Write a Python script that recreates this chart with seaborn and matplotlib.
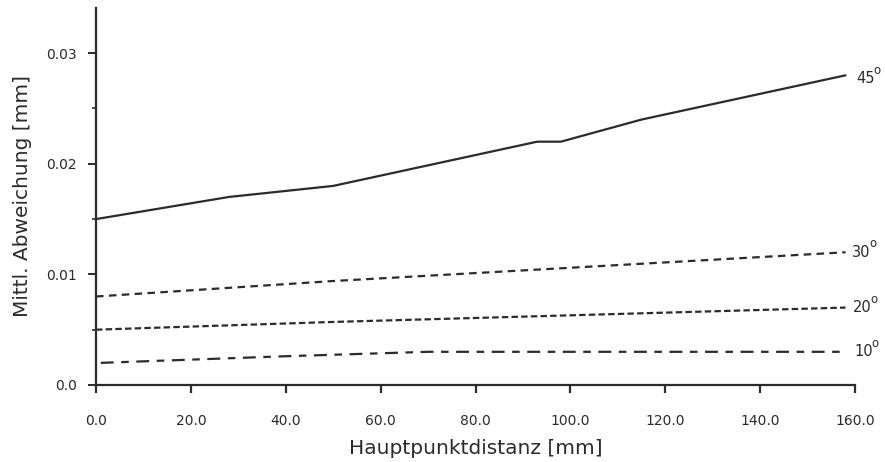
import matplotlib
matplotlib.use("Agg")
import matplotlib.pyplot as plt
import seaborn as sns
import pandas as pd

# Mean deviation vs. principal distance, for four viewing angles
x_45 = [0, 28, 50, 93, 98, 115, 158]
y_45 = [0.015, 0.017, 0.018, 0.022, 0.022, 0.024, 0.028]

x_30 = [0, 50, 100, 158]
y_30 = [0.008, 0.0094, 0.0106, 0.012]

x_20 = [0, 50, 100, 158]
y_20 = [0.005, 0.0057, 0.0063, 0.007]

x_10 = [1, 40, 70, 158]
y_10 = [0.002, 0.0026, 0.003, 0.003]

angles = ["45", "30", "20", "10"]
x_ticks = [0, 20, 40, 60, 80, 100, 120, 140, 160]
y_ticks = [0.0, 0.01, 0.02, 0.03]
y_tick_labels = ["0.0", "0.01", "0.02", "0.03"]

series = {"45": (x_45, y_45), "30": (x_30, y_30), "20": (x_20, y_20), "10": (x_10, y_10)}
rows = []
for a in angles:
    xs, ys = series[a]
    for xv, yv in zip(xs, ys):
        rows.append({"dist": xv, "dev": yv, "angle": a})
df = pd.DataFrame(rows)

sns.set_theme(style="ticks")
plt.rcParams["font.family"] = ["DejaVu Sans"]

ink = "#2b2b2b"
fig = plt.figure(figsize=(8.85, 4.62), dpi=100)
ax = fig.add_axes([0.1085, 0.1667, 0.8576, 0.8163])

dash_styles = {"45": "", "30": (3.4, 2.4), "20": (2.9, 1.45), "10": (5.8, 3.4, 3.4, 3.4)}
sns.lineplot(data=df, x="dist", y="dev", style="angle", style_order=angles,
             dashes=dash_styles, color=ink, linewidth=1.6, legend=False,
             estimator=None, sort=False, ax=ax)

ax.set_xlim(0, 160)
ax.set_ylim(0, 0.0341)

ax.set_xticks(x_ticks)
ax.set_xticklabels([f"{v:.1f}" for v in x_ticks], fontsize=10, color=ink)
ax.set_yticks(y_ticks)
ax.set_yticklabels(y_tick_labels, fontsize=10, color=ink)
ax.set_yticks([0.005, 0.015, 0.025], minor=True)

ax.tick_params(axis="x", which="major", length=6, width=1.6, direction="out",
               pad=15, colors=ink)
ax.tick_params(axis="y", which="major", length=6, width=1.4, direction="out",
               pad=8, colors=ink)
ax.tick_params(axis="y", which="minor", length=3, width=1.2, direction="out", colors=ink)

for side in ("top", "right"):
    ax.spines[side].set_visible(False)
for side in ("left", "bottom"):
    ax.spines[side].set_linewidth(1.6)
    ax.spines[side].set_color(ink)

ax.set_xlabel("Hauptpunktdistanz [mm]", fontsize=14.5, color=ink, labelpad=8)
ax.set_ylabel("Mittl. Abweichung [mm]", fontsize=14.5, color=ink, labelpad=10)

# Angle labels at the right end of each curve, with a raised "o" as degree sign
label_pos = {"45": (160.3, y_45[-1] - 0.0003), "30": (159.3, y_30[-1]),
             "20": (159.6, y_20[-1]), "10": (159.8, y_10[-1])}
for a in angles:
    lx, ly = label_pos[a]
    ax.text(lx, ly, a, fontsize=10.5, color=ink, ha="left", va="center",
            clip_on=False)
    ax.annotate("o", xy=(lx, ly), xytext=(12.5, 6), textcoords="offset points",
                fontsize=8.5, color=ink, ha="left", va="center",
                annotation_clip=False)

fig.savefig("out.png", dpi=100, facecolor="white")
